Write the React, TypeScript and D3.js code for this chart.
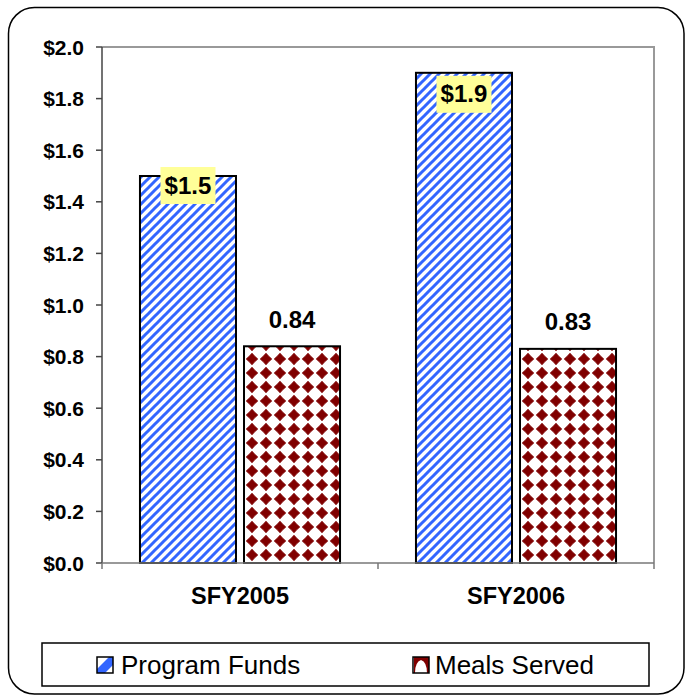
import React from "react";
import * as d3 from "d3";

const categories = ["SFY2005", "SFY2006"];
const seriesNames = ["Program Funds", "Meals Served"];
const programFunds = [1.5, 1.9];
const mealsServed = [0.84, 0.83];
const fundLabels = ["$1.5", "$1.9"];
const mealLabels = ["0.84", "0.83"];
const yTicks = [0, 0.2, 0.4, 0.6, 0.8, 1.0, 1.2, 1.4, 1.6, 1.8, 2.0];

const W = 687;
const H = 696;
const plot = { left: 102, right: 654, top: 47, bottom: 563 };
const FONT = "'Liberation Sans', Arial, Helvetica, sans-serif";

// excel put the yellow labels at slightly different depths inside the bars
const fundLabelDrop = [9, 21];

const App = () => {
  const y = d3.scaleLinear().domain([0, 2]).range([plot.bottom, plot.top]);
  const x0 = d3
    .scaleBand<string>()
    .domain(categories)
    .range([plot.left, plot.right])
    .padding(0);
  const x1 = d3
    .scaleBand<string>()
    .domain(seriesNames)
    .range([0, x0.bandwidth()])
    .paddingInner(0.077)
    .paddingOuter(0.365);

  const rows = categories.map((c, i) => ({
    cat: c,
    values: [
      { name: seriesNames[0], v: programFunds[i], label: fundLabels[i] },
      { name: seriesNames[1], v: mealsServed[i], label: mealLabels[i] },
    ],
  }));

  const fills = ["url(#stripes)", "url(#diamonds)"];
  const boundaries = [...categories.map((c) => x0(c)!), plot.right];

  return (
    <div style={{ position: "absolute", left: 0, top: 0 }}>
      <svg width={W} height={H} style={{ display: "block" }}>
        <defs>
          <pattern
            id="stripes"
            patternUnits="userSpaceOnUse"
            width={9}
            height={9}
          >
            <rect width={9} height={9} fill="#fff" />
            <path
              d="M-2,2 L2,-2 M0,9 L9,0 M7,11 L11,7"
              stroke="#3366ff"
              strokeWidth={3}
            />
          </pattern>
          <pattern
            id="diamonds"
            patternUnits="userSpaceOnUse"
            x={3}
            y={2}
            width={14}
            height={14}
          >
            <rect width={14} height={14} fill="#fff" />
            <path
              d="M7,1.3 Q9.5,4.5 12.7,7 Q9.5,9.5 7,12.7 Q4.5,9.5 1.3,7 Q4.5,4.5 7,1.3 Z"
              fill="#800000"
              stroke="#800000"
              strokeWidth={1}
              strokeLinejoin="round"
            />
          </pattern>
          <clipPath id="swA">
            <rect x={97} y={657} width={16} height={16} />
          </clipPath>
          <clipPath id="swB">
            <rect x={414} y={657} width={16} height={16} />
          </clipPath>
        </defs>

        <rect
          x={8.5}
          y={7.5}
          width={675.5}
          height={686.5}
          rx={26}
          ry={26}
          fill="#fff"
          stroke="#000"
          strokeWidth={1.5}
        />

        {/* plot frame */}
        <path
          d={`M${plot.left},${plot.top} H${plot.right} V${plot.bottom}`}
          fill="none"
          stroke="#999"
          strokeWidth={2}
        />

        {/* bars */}
        {rows.map((r) => (
          <g key={r.cat} transform={`translate(${x0(r.cat)},0)`}>
            {r.values.map((d, j) => (
              <rect
                key={d.name}
                x={x1(d.name)}
                y={y(d.v)}
                width={x1.bandwidth()}
                height={y(0) - y(d.v)}
                fill={fills[j]}
                stroke="#000"
                strokeWidth={2}
              />
            ))}
          </g>
        ))}

        {/* data labels */}
        {rows.map((r, i) => {
          const fx = x0(r.cat)! + x1(seriesNames[0])! + x1.bandwidth() / 2;
          const fy = y(r.values[0].v) + fundLabelDrop[i];
          const mx = x0(r.cat)! + x1(seriesNames[1])! + x1.bandwidth() / 2;
          const my = y(r.values[1].v) - 27;
          return (
            <g key={r.cat + "lab"}>
              <rect x={fx - 27.5} y={fy - 18} width={55} height={37} fill="#ffff99" />
              <text
                x={fx}
                y={fy}
                textAnchor="middle"
                dominantBaseline="central"
                fontFamily={FONT}
                fontWeight="bold"
                fontSize={24}
              >
                {r.values[0].label}
              </text>
              <text
                x={mx}
                y={my}
                textAnchor="middle"
                dominantBaseline="central"
                fontFamily={FONT}
                fontWeight="bold"
                fontSize={24}
              >
                {r.values[1].label}
              </text>
            </g>
          );
        })}

        {/* y axis */}
        <line
          x1={plot.left}
          x2={plot.left}
          y1={plot.top}
          y2={plot.bottom}
          stroke="#444"
          strokeWidth={1.5}
        />
        {yTicks.map((t) => (
          <g key={t}>
            <line
              x1={plot.left - 6}
              x2={plot.left}
              y1={y(t)}
              y2={y(t)}
              stroke="#444"
              strokeWidth={1.5}
            />
            <text
              x={plot.left - 18}
              y={y(t)}
              textAnchor="end"
              dominantBaseline="central"
              fontFamily={FONT}
              fontWeight="bold"
              fontSize={21}
            >
              {"$" + t.toFixed(1)}
            </text>
          </g>
        ))}

        {/* x axis */}
        <line
          x1={plot.left}
          x2={plot.right}
          y1={plot.bottom}
          y2={plot.bottom}
          stroke="#777"
          strokeWidth={1.5}
        />
        {boundaries.map((b, i) => (
          <line
            key={i}
            x1={b}
            x2={b}
            y1={plot.bottom}
            y2={plot.bottom + 6}
            stroke="#777"
            strokeWidth={1.5}
          />
        ))}
        {categories.map((c) => (
          <text
            key={c}
            x={x0(c)! + x0.bandwidth() / 2}
            y={596}
            textAnchor="middle"
            dominantBaseline="central"
            fontFamily={FONT}
            fontWeight="bold"
            fontSize={23.5}
          >
            {c}
          </text>
        ))}

        {/* legend */}
        <rect
          x={42}
          y={643}
          width={607}
          height={43}
          fill="#fff"
          stroke="#000"
          strokeWidth={1.5}
        />
        <g clipPath="url(#swA)">
          <rect x={97} y={657} width={16} height={16} fill="#fff" />
          <path d="M95,671 L111,655 L117,661 L101,677 Z" fill="#3366ff" />
        </g>
        <rect x={97} y={657} width={16} height={16} fill="none" stroke="#000" strokeWidth={1.5} />
        <text x={121} y={665} dominantBaseline="central" fontFamily={FONT} fontSize={26}>
          {seriesNames[0]}
        </text>
        <g clipPath="url(#swB)">
          <rect x={413} y={657} width={16} height={16} fill="#800000" />
          <path d="M415,673 Q415,662 421,660 Q427,662 427,673 Z" fill="#fff" />
        </g>
        <rect x={413} y={657} width={16} height={16} fill="none" stroke="#000" strokeWidth={1.5} />
        <text x={435} y={665} dominantBaseline="central" fontFamily={FONT} fontSize={26}>
          {seriesNames[1]}
        </text>
      </svg>
    </div>
  );
};

export default App;
